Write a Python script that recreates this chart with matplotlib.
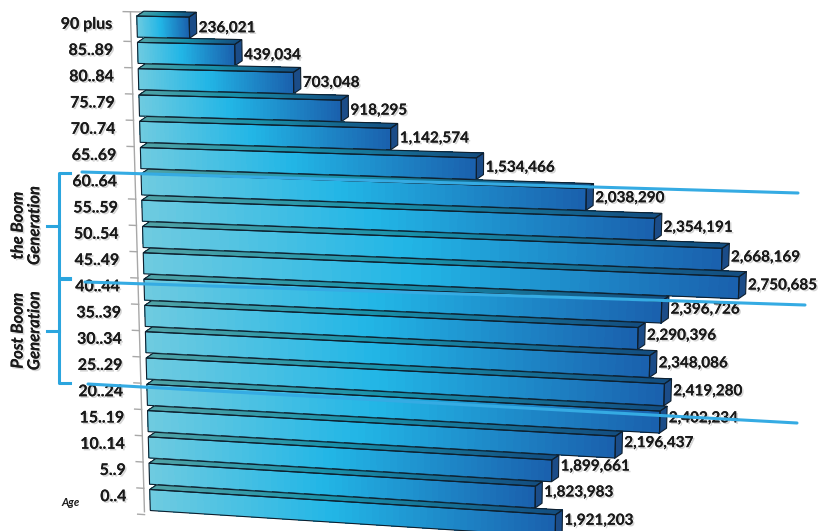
import numpy as np
import matplotlib
matplotlib.use("Agg")
import matplotlib.pyplot as plt
from matplotlib.transforms import Transform
from matplotlib.patches import Polygon
from matplotlib.colors import LinearSegmentedColormap, to_rgb
import matplotlib.patheffects as pe

# ---- data -------------------------------------------------------------
age_groups = ["0..4", "5..9", "10..14", "15..19", "20..24", "25..29", "30..34",
              "35..39", "40..44", "45..49", "50..54", "55..59", "60..64",
              "65..69", "70..74", "75..79", "80..84", "85..89", "90 plus"]
population = [1921203, 1823983, 1899661, 2196437, 2402234, 2419280, 2348086,
              2290396, 2396726, 2750685, 2668169, 2354191, 2038290,
              1534466, 1142574, 918295, 703048, 439034, 236021]
boom_rows = ("45..49", "60..64")
post_boom_rows = ("25..29", "40..44")

# ---- geometry helpers -------------------------------------------------
W, H = 824, 531
PX_PER_M = 215.0          # horizontal pixels per million people
ROW_PX = 26.3             # vertical pixels per age row
ORIGIN_PX = 140.0
ROW0_PX = 500.0           # pixel row (from top) of the bottom category


def px_x(x):
    return (x - ORIGIN_PX) / PX_PER_M


def px_y(y):
    return (ROW0_PX - y) / ROW_PX


class Perspective(Transform):
    """Tilted floor: bars lean down to the right, more so near the bottom,
    and the value axis origin drifts right toward the bottom."""
    input_dims = output_dims = 2
    is_separable = False
    has_inverse = False

    def transform_non_affine(self, xy):
        xy = np.asarray(xy, dtype=float)
        v, r = xy[:, 0], xy[:, 1]
        shift = (10.0 - 0.72 * r) / PX_PER_M
        scale = (211.0 + 0.6 * r) / PX_PER_M
        slope_px = 0.062 - 0.0023 * r
        drop = slope_px * PX_PER_M / ROW_PX
        return np.column_stack([shift + v * scale, r - drop * v])


fig = plt.figure(figsize=(W / 100, H / 100), dpi=100)
ax = fig.add_axes([0, 0, 1, 1])
ax.set_xlim(px_x(0), px_x(W))
ax.set_ylim(px_y(H), px_y(0))
ax.axis("off")

persp = Perspective() + ax.transData

front_cmap = LinearSegmentedColormap.from_list(
    "front", [(0.0, "#6fcbe0"), (0.45, "#22b6e6"), (1.0, "#1a60ad")])
side_color = "#1b4c88"
edge_color = "#0e1f2e"

HALF = 0.40                  # half height of a bar's front face (rows)
DEPTH_V = 7.0 / PX_PER_M     # depth offset, horizontal
DEPTH_R = 5.0 / ROW_PX       # depth offset, vertical
N_SLICES = 60


def top_shade(c):
    r, g, b = to_rgb(c)
    return (r * 0.72, g * 0.80, b * 0.74)


text_fx = [pe.withSimplePatchShadow(offset=(1.2, -1.2), shadow_rgbFace="#888888", alpha=0.35),
           pe.Normal()]

# ---- bars -------------------------------------------------------------
for r in range(len(age_groups) - 1, -1, -1):
    v = population[r] / 1e6
    z = 10 + (len(age_groups) - r)
    edges = np.linspace(0, v, N_SLICES + 1)
    overlap = v / N_SLICES * 0.6
    for i in range(N_SLICES):
        v0, v1 = edges[i], min(edges[i + 1] + overlap, v)
        col = front_cmap((i + 0.5) / N_SLICES)
        ax.add_patch(Polygon([(v0, r - HALF), (v1, r - HALF), (v1, r + HALF), (v0, r + HALF)],
                             closed=True, facecolor=col, edgecolor="none", lw=0,
                             antialiased=False, transform=persp, zorder=z))
        top = top_shade(col)
        ax.add_patch(Polygon([(v0, r + HALF), (v1, r + HALF),
                              (v1 + DEPTH_V, r + HALF + DEPTH_R), (v0 + DEPTH_V, r + HALF + DEPTH_R)],
                             closed=True, facecolor=top, edgecolor="none", lw=0,
                             antialiased=False, transform=persp, zorder=z))
    # right side face
    ax.add_patch(Polygon([(v, r - HALF), (v + DEPTH_V, r - HALF + DEPTH_R),
                          (v + DEPTH_V, r + HALF + DEPTH_R), (v, r + HALF)],
                         closed=True, facecolor=side_color, edgecolor=edge_color, lw=0.8,
                         transform=persp, zorder=z + 0.5))
    # outlines
    ax.add_patch(Polygon([(0, r - HALF), (v, r - HALF), (v, r + HALF), (0, r + HALF)],
                         closed=True, fill=False, edgecolor=edge_color, lw=0.8,
                         transform=persp, zorder=z + 0.5))
    ax.add_patch(Polygon([(0, r + HALF), (v, r + HALF), (v + DEPTH_V, r + HALF + DEPTH_R),
                          (DEPTH_V, r + HALF + DEPTH_R)],
                         closed=True, fill=False, edgecolor=edge_color, lw=0.8,
                         transform=persp, zorder=z + 0.5))
    # value label
    ax.text(v + DEPTH_V + 2 / PX_PER_M, r + 0.2 - 0.012 * r, f"{population[r]:,}",
            transform=persp, ha="left", va="center", fontsize=11, fontweight="bold",
            family="Lato", color="#1a1a1a", zorder=40, path_effects=text_fx)
    # category label
    ax.text(-24 / PX_PER_M, r + 0.05, age_groups[r], transform=persp,
            ha="right", va="center", fontsize=11.5, fontweight="bold", family="Lato",
            color="#1a1a1a", zorder=40, path_effects=text_fx)

# ---- category axis ----------------------------------------------------
axis_v = -6 / PX_PER_M
top_r = len(age_groups) - 1 + 0.56
ax.plot([axis_v, axis_v], [top_r, -0.46], color="#a8a8a8", lw=1.0,
        transform=persp, zorder=5)
for k in range(-1, len(age_groups) - 1):
    ax.plot([axis_v - 7 / PX_PER_M, axis_v], [k + 0.43, k + 0.43], color="#a8a8a8",
            lw=1.0, transform=persp, zorder=5)
ax.plot([axis_v - 7 / PX_PER_M, axis_v + 20 / PX_PER_M], [top_r, top_r],
        color="#a8a8a8", lw=1.0, transform=persp, zorder=5)

ax.text(px_x(71), px_y(503), "Age", ha="center", va="center", fontsize=8,
        fontweight="bold", style="italic", family="Lato", color="#1a1a1a", zorder=40)

# ---- generation brackets ---------------------------------------------
bracket_color = "#2ba5de"


def draw_bracket(rows, label):
    lo = age_groups.index(rows[0])
    hi = age_groups.index(rows[1])
    top = hi + 0.42
    bottom = lo - 0.55
    mid = (top + bottom) / 2
    xv, xr, xl = px_x(59), px_x(70), px_x(47)
    ax.plot([xr, xv, xv, xr], [top, top, bottom, bottom], color=bracket_color,
            lw=2.2, solid_joinstyle="round", zorder=45)
    ax.plot([xl, xv], [mid, mid], color=bracket_color, lw=2.2, zorder=45)
    ax.text(px_x(26), mid, label, rotation=90, ha="center", va="center",
            fontsize=12, fontweight="bold", style="italic", family="Lato",
            color="#1a1a1a", linespacing=1.05, zorder=40, path_effects=text_fx)


draw_bracket(boom_rows, "the Boom\nGeneration")
draw_bracket(post_boom_rows, "Post Boom\nGeneration")

# ---- divider lines between generations --------------------------------
for (x0, y0), (x1, y1) in [((82, 172), (798, 193)),
                           ((85, 282), (805, 305)),
                           ((88, 384), (797, 423))]:
    ax.plot([px_x(x0), px_x(x1)], [px_y(y0), px_y(y1)], color="#35abe3",
            lw=2.2, solid_capstyle="round", zorder=46)

fig.savefig("out.png", dpi=100, facecolor="white")
